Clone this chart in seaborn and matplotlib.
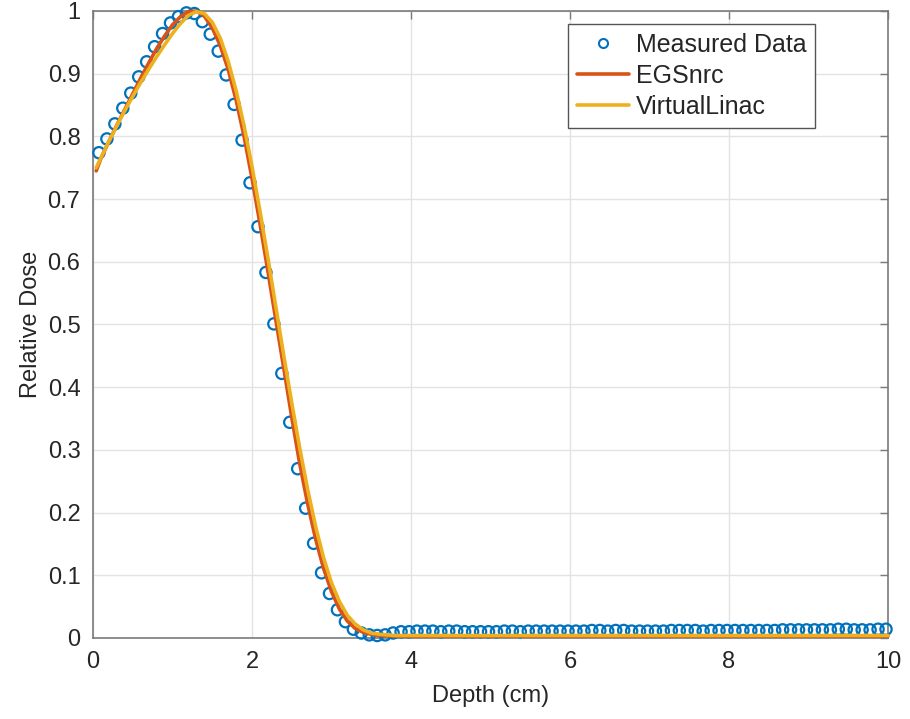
import numpy as np
import pandas as pd
import matplotlib
matplotlib.use("Agg")
import matplotlib.pyplot as plt
from matplotlib.lines import Line2D
import seaborn as sns

# ---------------- data ----------------
measured_depth = [
    0.075, 0.175, 0.275, 0.375, 0.475, 0.575, 0.675, 0.775, 0.875, 0.975,
    1.075, 1.175, 1.275, 1.375, 1.475, 1.575, 1.675, 1.775, 1.875, 1.975,
    2.075, 2.175, 2.275, 2.375, 2.475, 2.575, 2.675, 2.775, 2.875, 2.975,
    3.075, 3.175, 3.275, 3.375, 3.475, 3.575, 3.675, 3.775, 3.875, 3.975,
    4.075, 4.175, 4.275, 4.375, 4.475, 4.575, 4.675, 4.775, 4.875, 4.975,
    5.075, 5.175, 5.275, 5.375, 5.475, 5.575, 5.675, 5.775, 5.875, 5.975,
    6.075, 6.175, 6.275, 6.375, 6.475, 6.575, 6.675, 6.775, 6.875, 6.975,
    7.075, 7.175, 7.275, 7.375, 7.475, 7.575, 7.675, 7.775, 7.875, 7.975,
    8.075, 8.175, 8.275, 8.375, 8.475, 8.575, 8.675, 8.775, 8.875, 8.975,
    9.075, 9.175, 9.275, 9.375, 9.475, 9.575, 9.675, 9.775, 9.875, 9.975,
]
measured_dose = [
    0.774, 0.796, 0.820, 0.845, 0.869, 0.895, 0.919, 0.943, 0.964, 0.981,
    0.991, 0.997, 0.996, 0.983, 0.963, 0.936, 0.898, 0.851, 0.794, 0.726,
    0.656, 0.583, 0.501, 0.422, 0.344, 0.270, 0.207, 0.151, 0.104, 0.071,
    0.045, 0.026, 0.014, 0.008, 0.005, 0.004, 0.005, 0.008, 0.010, 0.010,
    0.011, 0.011, 0.011, 0.010, 0.011, 0.011, 0.010, 0.010, 0.010, 0.010,
    0.010, 0.011, 0.011, 0.010, 0.011, 0.011, 0.011, 0.011, 0.011, 0.011,
    0.011, 0.011, 0.012, 0.012, 0.011, 0.012, 0.012, 0.011, 0.011, 0.011,
    0.011, 0.011, 0.012, 0.012, 0.012, 0.012, 0.011, 0.012, 0.012, 0.012,
    0.012, 0.012, 0.012, 0.012, 0.012, 0.012, 0.013, 0.013, 0.013, 0.013,
    0.013, 0.013, 0.013, 0.014, 0.014, 0.013, 0.013, 0.013, 0.014, 0.014,
]

sim_depth = [
    0.04, 0.1, 0.2, 0.3, 0.4, 0.5, 0.6, 0.7, 0.8, 0.9,
    1.0, 1.1, 1.2, 1.3, 1.4, 1.5, 1.6, 1.7, 1.8, 1.9,
    2.0, 2.1, 2.2, 2.3, 2.4, 2.5, 2.6, 2.7, 2.8, 2.9,
    3.0, 3.1, 3.2, 3.3, 3.4, 3.5, 3.6, 3.8, 4.0, 5.0,
    6.0, 7.0, 8.0, 9.0, 10.0,
]
egsnrc_dose = [
    0.745, 0.765, 0.792, 0.818, 0.843, 0.868, 0.893, 0.917, 0.940, 0.960,
    0.978, 0.991, 0.999, 1.000, 0.992, 0.973, 0.945, 0.907, 0.858, 0.800,
    0.733, 0.661, 0.585, 0.507, 0.430, 0.352, 0.278, 0.214, 0.158, 0.111,
    0.074, 0.046, 0.027, 0.015, 0.009, 0.006, 0.004, 0.003, 0.003, 0.003,
    0.003, 0.003, 0.003, 0.003, 0.003,
]
virtualinac_dose = [
    0.750, 0.766, 0.792, 0.817, 0.841, 0.864, 0.886, 0.907, 0.927, 0.946,
    0.964, 0.980, 0.993, 0.999, 0.996, 0.982, 0.957, 0.920, 0.873, 0.817,
    0.752, 0.681, 0.606, 0.528, 0.450, 0.375, 0.303, 0.237, 0.178, 0.128,
    0.088, 0.058, 0.036, 0.022, 0.013, 0.008, 0.006, 0.004, 0.004, 0.004,
    0.004, 0.004, 0.004, 0.004, 0.004,
]

x_ticks = [0, 2, 4, 6, 8, 10]
y_ticks = [0, 0.1, 0.2, 0.3, 0.4, 0.5, 0.6, 0.7, 0.8, 0.9, 1]
y_tick_labels = ["0", "0.1", "0.2", "0.3", "0.4", "0.5", "0.6", "0.7", "0.8", "0.9", "1"]
legend_labels = ["Measured Data", "EGSnrc", "VirtualLinac"]

BLUE = "#0072BD"
RED = "#D95319"
YELLOW = "#EDB120"

# ---------------- plot ----------------
sns.set_style("white")
plt.rcParams["font.family"] = ["Liberation Sans", "DejaVu Sans"]

fig = plt.figure(figsize=(9.10, 7.19), dpi=100)
ax = fig.add_axes([93 / 910, 1 - 638 / 719, (888 - 93) / 910, (638 - 11) / 719])

meas = pd.DataFrame({"Depth": measured_depth, "Dose": measured_dose})
egs = pd.DataFrame({"Depth": sim_depth, "Dose": egsnrc_dose})
vl = pd.DataFrame({"Depth": sim_depth, "Dose": virtualinac_dose})

sns.scatterplot(data=meas, x="Depth", y="Dose", ax=ax, marker="o",
                facecolors="none", edgecolor=BLUE, linewidth=1.6, s=66,
                zorder=3, clip_on=False, legend=False)
sns.lineplot(data=egs, x="Depth", y="Dose", ax=ax, color=RED, linewidth=2.6,
             zorder=4, clip_on=False, legend=False)
sns.lineplot(data=vl, x="Depth", y="Dose", ax=ax, color=YELLOW, linewidth=2.6,
             zorder=5, clip_on=False, legend=False)

ax.set_xlim(0, 10)
ax.set_ylim(0, 1)
ax.set_xticks(x_ticks)
ax.set_yticks(y_ticks)
ax.set_yticklabels(y_tick_labels)

ax.grid(True, color="#e3e3e3", linewidth=1.0)
ax.set_axisbelow(True)
for sp in ax.spines.values():
    sp.set_visible(True)
    sp.set_color("#7a7a7a")
    sp.set_linewidth(1.2)

ax.tick_params(axis="both", which="both", direction="in", length=6, width=1,
               color="#7a7a7a", labelsize=17, labelcolor="#262626",
               top=True, right=True, pad=9)

ax.set_xlabel("Depth (cm)", fontsize=17, color="#262626", labelpad=9)
ax.set_ylabel("Relative Dose", fontsize=17, color="#262626", labelpad=4)

handles = [
    Line2D([], [], linestyle="none", marker="o", markerfacecolor="none",
           markeredgecolor=BLUE, markeredgewidth=1.5, markersize=6.5),
    Line2D([], [], color=RED, linewidth=2.6),
    Line2D([], [], color=YELLOW, linewidth=2.6),
]
leg = ax.legend(handles, legend_labels,
                loc="upper right", bbox_to_anchor=(815 / 910, 1 - 24 / 719),
                bbox_transform=fig.transFigure,
                fontsize=18, frameon=True, fancybox=False, framealpha=1,
                edgecolor="#555555", borderpad=0.35, labelspacing=0.28,
                handlelength=2.1, handletextpad=0.25, borderaxespad=0)
leg.get_frame().set_linewidth(1.0)
for t in leg.get_texts():
    t.set_color("#262626")

fig.savefig("out.png", dpi=100)
